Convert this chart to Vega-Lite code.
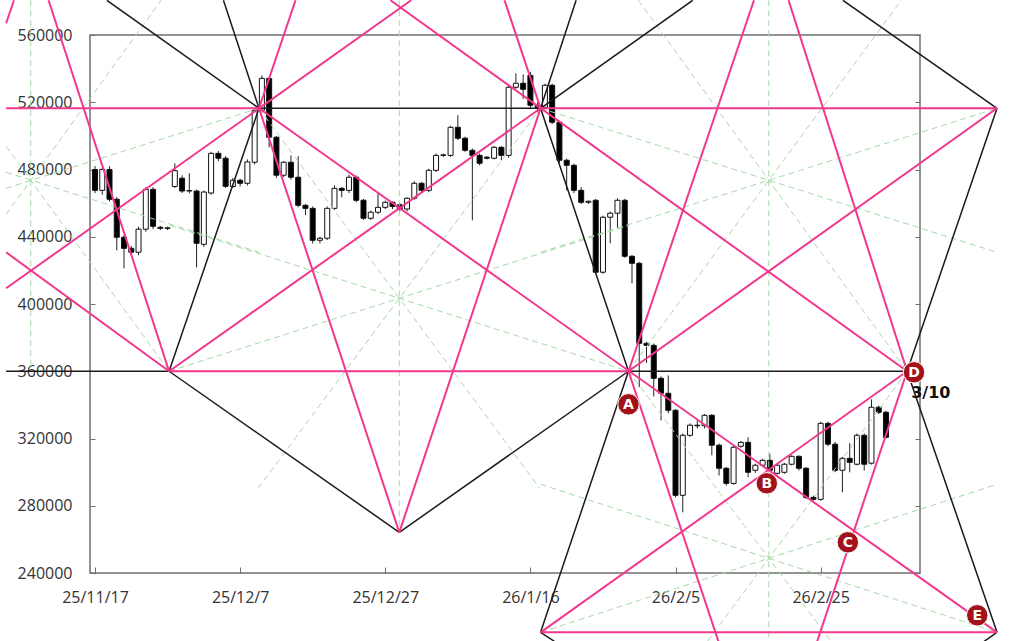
{
"$schema":"https://vega.github.io/schema/vega-lite/v6.json",
"width":830,"height":538,
"autosize":{"type":"none"},
"padding":{"left":90,"top":35,"right":104,"bottom":68},
"background":"white",
"config":{"view":{"stroke":"#707070","strokeWidth":1.5},"font":"Open Sans"},
"datasets":{
"candles":[
{"t":"2025-11-17","o":480000,"h":482000,"l":466000,"c":467600},
{"t":"2025-11-18","o":467600,"h":481000,"l":465000,"c":480000},
{"t":"2025-11-19","o":480000,"h":482000,"l":461000,"c":462300},
{"t":"2025-11-20","o":462300,"h":463500,"l":431900,"c":439700},
{"t":"2025-11-21","o":439700,"h":441000,"l":421200,"c":433100},
{"t":"2025-11-22","o":433100,"h":434500,"l":429000,"c":430800},
{"t":"2025-11-23","o":430800,"h":446000,"l":429000,"c":444500},
{"t":"2025-11-24","o":444500,"h":469500,"l":443000,"c":468200},
{"t":"2025-11-25","o":468200,"h":469500,"l":444500,"c":446200},
{"t":"2025-11-26","o":445600,"h":446500,"l":444000,"c":445000},
{"t":"2025-11-27","o":445000,"h":446000,"l":444000,"c":445300},
{"t":"2025-11-28","o":469900,"h":483700,"l":469000,"c":479300},
{"t":"2025-11-29","o":474800,"h":476500,"l":466000,"c":467200},
{"t":"2025-11-30","o":467200,"h":477800,"l":465800,"c":467500},
{"t":"2025-12-01","o":467200,"h":468000,"l":421800,"c":436100},
{"t":"2025-12-02","o":435500,"h":467500,"l":434000,"c":466600},
{"t":"2025-12-03","o":466000,"h":490500,"l":465000,"c":489600},
{"t":"2025-12-04","o":489600,"h":491000,"l":485000,"c":486700},
{"t":"2025-12-05","o":486700,"h":488000,"l":469000,"c":470000},
{"t":"2025-12-06","o":469900,"h":475000,"l":469000,"c":473600},
{"t":"2025-12-07","o":473600,"h":474500,"l":470000,"c":471800},
{"t":"2025-12-08","o":471800,"h":486000,"l":470500,"c":484500},
{"t":"2025-12-09","o":484300,"h":516000,"l":483000,"c":515200},
{"t":"2025-12-10","o":515200,"h":536000,"l":514000,"c":534200},
{"t":"2025-12-11","o":534200,"h":535000,"l":493200,"c":499200},
{"t":"2025-12-12","o":499200,"h":500000,"l":475000,"c":476600},
{"t":"2025-12-13","o":476600,"h":485000,"l":475500,"c":484300},
{"t":"2025-12-14","o":484300,"h":488400,"l":474000,"c":475400},
{"t":"2025-12-15","o":475400,"h":488000,"l":457500,"c":458700},
{"t":"2025-12-16","o":458700,"h":459500,"l":452800,"c":456900},
{"t":"2025-12-17","o":456900,"h":458000,"l":436000,"c":437900},
{"t":"2025-12-18","o":437900,"h":440000,"l":436000,"c":439100},
{"t":"2025-12-19","o":439100,"h":458000,"l":438000,"c":456900},
{"t":"2025-12-20","o":456900,"h":470600,"l":456000,"c":468800},
{"t":"2025-12-21","o":468800,"h":469500,"l":463500,"c":467600},
{"t":"2025-12-22","o":467600,"h":477000,"l":466000,"c":475400},
{"t":"2025-12-23","o":475400,"h":476500,"l":460500,"c":461700},
{"t":"2025-12-24","o":461700,"h":462500,"l":450000,"c":451000},
{"t":"2025-12-25","o":451000,"h":455500,"l":450000,"c":454600},
{"t":"2025-12-26","o":454600,"h":465800,"l":453500,"c":457500},
{"t":"2025-12-27","o":457500,"h":461500,"l":456500,"c":460500},
{"t":"2025-12-28","o":460500,"h":461000,"l":456500,"c":458000},
{"t":"2025-12-29","o":459000,"h":460000,"l":455000,"c":456500},
{"t":"2025-12-30","o":456500,"h":463500,"l":455000,"c":462900},
{"t":"2025-12-31","o":462900,"h":473000,"l":462000,"c":471800},
{"t":"2026-01-01","o":471800,"h":472500,"l":466500,"c":467600},
{"t":"2026-01-02","o":467600,"h":480500,"l":466500,"c":479500},
{"t":"2026-01-03","o":479500,"h":489500,"l":478500,"c":488400},
{"t":"2026-01-04","o":488400,"h":489500,"l":487500,"c":488700},
{"t":"2026-01-05","o":488400,"h":506000,"l":487500,"c":505100},
{"t":"2026-01-06","o":505100,"h":512200,"l":497500,"c":498600},
{"t":"2026-01-07","o":498600,"h":499500,"l":490500,"c":491400},
{"t":"2026-01-08","o":491400,"h":492500,"l":449800,"c":488400},
{"t":"2026-01-09","o":488400,"h":489500,"l":482500,"c":483700},
{"t":"2026-01-10","o":487300,"h":488000,"l":486000,"c":486700},
{"t":"2026-01-11","o":486700,"h":494000,"l":486000,"c":493200},
{"t":"2026-01-12","o":493200,"h":494000,"l":485500,"c":488400},
{"t":"2026-01-13","o":488400,"h":530000,"l":487000,"c":528900},
{"t":"2026-01-14","o":528900,"h":537200,"l":528000,"c":531300},
{"t":"2026-01-15","o":531300,"h":536600,"l":522000,"c":527700},
{"t":"2026-01-16","o":536000,"h":538000,"l":516000,"c":518200},
{"t":"2026-01-17","o":518200,"h":520000,"l":514000,"c":517000},
{"t":"2026-01-18","o":517000,"h":531000,"l":516000,"c":530100},
{"t":"2026-01-19","o":530100,"h":531000,"l":507000,"c":508100},
{"t":"2026-01-20","o":508100,"h":509000,"l":484000,"c":485500},
{"t":"2026-01-21","o":485500,"h":486500,"l":467600,"c":482500},
{"t":"2026-01-22","o":482500,"h":483500,"l":466000,"c":467600},
{"t":"2026-01-23","o":467600,"h":469500,"l":459500,"c":460500},
{"t":"2026-01-24","o":460500,"h":461500,"l":459500,"c":461100},
{"t":"2026-01-25","o":461700,"h":462500,"l":418000,"c":418900},
{"t":"2026-01-26","o":418900,"h":452500,"l":418000,"c":451600},
{"t":"2026-01-27","o":451600,"h":455000,"l":436100,"c":454000},
{"t":"2026-01-28","o":454000,"h":462900,"l":445000,"c":461700},
{"t":"2026-01-29","o":461700,"h":462500,"l":427500,"c":428400},
{"t":"2026-01-30","o":428400,"h":429000,"l":412300,"c":424200},
{"t":"2026-01-31","o":424200,"h":425000,"l":350500,"c":376600},
{"t":"2026-02-01","o":376600,"h":377500,"l":365000,"c":375400},
{"t":"2026-02-02","o":375400,"h":376500,"l":345000,"c":355800},
{"t":"2026-02-03","o":355800,"h":357000,"l":330800,"c":346900},
{"t":"2026-02-04","o":346900,"h":357500,"l":335000,"c":336800},
{"t":"2026-02-05","o":336800,"h":337500,"l":285000,"c":286200},
{"t":"2026-02-06","o":286200,"h":323000,"l":276100,"c":321900},
{"t":"2026-02-07","o":321900,"h":329000,"l":321000,"c":327900},
{"t":"2026-02-08","o":327900,"h":330800,"l":326000,"c":327600},
{"t":"2026-02-09","o":327600,"h":334500,"l":326000,"c":333800},
{"t":"2026-02-10","o":333800,"h":334500,"l":310000,"c":316000},
{"t":"2026-02-11","o":316000,"h":317000,"l":298000,"c":302300},
{"t":"2026-02-12","o":302300,"h":303000,"l":292000,"c":293300},
{"t":"2026-02-13","o":293300,"h":315500,"l":292500,"c":314800},
{"t":"2026-02-14","o":315400,"h":318500,"l":314500,"c":317700},
{"t":"2026-02-15","o":317700,"h":320700,"l":297000,"c":299900},
{"t":"2026-02-16","o":301100,"h":305000,"l":299500,"c":304100},
{"t":"2026-02-17","o":304100,"h":308000,"l":303000,"c":307000},
{"t":"2026-02-18","o":307000,"h":311000,"l":300000,"c":301100},
{"t":"2026-02-19","o":299300,"h":305000,"l":298500,"c":304100},
{"t":"2026-02-20","o":299900,"h":305500,"l":299000,"c":304700},
{"t":"2026-02-21","o":304700,"h":310000,"l":304000,"c":309400},
{"t":"2026-02-22","o":309400,"h":310000,"l":301000,"c":302300},
{"t":"2026-02-23","o":302300,"h":303000,"l":284000,"c":285000},
{"t":"2026-02-24","o":285000,"h":286000,"l":283000,"c":283800},
{"t":"2026-02-25","o":283800,"h":330000,"l":283000,"c":329000},
{"t":"2026-02-26","o":329000,"h":330000,"l":315500,"c":316600},
{"t":"2026-02-27","o":316600,"h":318000,"l":300000,"c":301100},
{"t":"2026-02-28","o":301100,"h":309000,"l":288000,"c":308200},
{"t":"2026-03-01","o":308200,"h":317200,"l":299900,"c":305800},
{"t":"2026-03-02","o":304700,"h":323000,"l":304000,"c":321900},
{"t":"2026-03-03","o":321900,"h":323000,"l":301000,"c":304700},
{"t":"2026-03-04","o":305300,"h":343300,"l":304500,"c":338600},
{"t":"2026-03-05","o":338600,"h":339500,"l":334500,"c":335600},
{"t":"2026-03-06","o":335600,"h":336500,"l":320000,"c":320700}
],
"segs":[
{"id":"k1","k":"black","t":"2025-11-04T18:00Z","v":360000},{"id":"k1","k":"black","t":"2025-11-27T05:04Z","v":360000},
{"id":"k2","k":"black","t":"2026-01-29T12:27Z","v":360000},{"id":"k2","k":"black","t":"2026-03-08T21:55Z","v":360000},
{"id":"k3","k":"black","t":"2025-12-09T14:24Z","v":516400},{"id":"k3","k":"black","t":"2026-01-17T09:39Z","v":516400},
{"id":"k4","k":"black","t":"2025-11-18T15:13Z","v":580640},{"id":"k4","k":"black","t":"2025-12-09T14:24Z","v":516400},
{"id":"k5","k":"black","t":"2025-12-04T16:47Z","v":580640},{"id":"k5","k":"black","t":"2025-12-09T14:24Z","v":516400},
{"id":"k6","k":"black","t":"2025-11-27T05:04Z","v":360000},{"id":"k6","k":"black","t":"2025-12-09T14:24Z","v":516400},
{"id":"k7","k":"black","t":"2025-11-27T05:04Z","v":360000},{"id":"k7","k":"black","t":"2025-12-28T22:24Z","v":264200},
{"id":"k8","k":"black","t":"2025-12-28T22:24Z","v":264200},{"id":"k8","k":"black","t":"2026-01-29T12:27Z","v":360000},
{"id":"k9","k":"black","t":"2026-01-17T09:39Z","v":516400},{"id":"k9","k":"black","t":"2026-01-29T12:27Z","v":360000},
{"id":"k10","k":"black","t":"2026-01-17T09:39Z","v":516400},{"id":"k10","k":"black","t":"2026-01-22T07:16Z","v":580640},
{"id":"k11","k":"black","t":"2026-01-17T09:39Z","v":516400},{"id":"k11","k":"black","t":"2026-02-07T08:51Z","v":580640},
{"id":"k12","k":"black","t":"2026-01-17T09:39Z","v":204700},{"id":"k12","k":"black","t":"2026-01-29T12:27Z","v":360000},
{"id":"k13","k":"black","t":"2026-02-28T01:32Z","v":580640},{"id":"k13","k":"black","t":"2026-03-21T07:15Z","v":516400},
{"id":"k14","k":"black","t":"2026-03-08T21:55Z","v":360000},{"id":"k14","k":"black","t":"2026-03-21T07:15Z","v":516400},
{"id":"k15","k":"black","t":"2026-03-08T21:55Z","v":360000},{"id":"k15","k":"black","t":"2026-03-21T07:15Z","v":204700},
{"id":"k16","k":"black","t":"2026-01-17T09:39Z","v":204700},{"id":"k16","k":"black","t":"2026-01-19T07:23Z","v":199370},
{"id":"k17","k":"black","t":"2026-03-21T07:15Z","v":204700},{"id":"k17","k":"black","t":"2026-03-19T12:46Z","v":199370},
{"id":"q1","k":"pink","t":"2025-11-04T18:00Z","v":516400},{"id":"q1","k":"pink","t":"2025-12-09T14:24Z","v":516400},
{"id":"q2","k":"pink","t":"2026-01-17T09:39Z","v":516400},{"id":"q2","k":"pink","t":"2026-03-21T07:15Z","v":516400},
{"id":"q3","k":"pink","t":"2025-11-27T05:04Z","v":360000},{"id":"q3","k":"pink","t":"2026-01-29T12:27Z","v":360000},
{"id":"q4","k":"pink","t":"2026-01-17T09:39Z","v":204700},{"id":"q4","k":"pink","t":"2026-03-21T07:15Z","v":204700},
{"id":"q5","k":"pink","t":"2025-11-04T18:00Z","v":430750},{"id":"q5","k":"pink","t":"2025-11-27T05:04Z","v":360000},
{"id":"q6","k":"pink","t":"2025-11-04T18:00Z","v":409340},{"id":"q6","k":"pink","t":"2025-12-30T13:36Z","v":580640},
{"id":"q7","k":"pink","t":"2025-11-10T14:25Z","v":580640},{"id":"q7","k":"pink","t":"2025-11-27T05:04Z","v":360000},
{"id":"q8","k":"pink","t":"2025-11-04T18:00Z","v":566960},{"id":"q8","k":"pink","t":"2025-11-05T20:00Z","v":580640},
{"id":"q9","k":"pink","t":"2025-12-09T14:24Z","v":516400},{"id":"q9","k":"pink","t":"2025-12-14T15:19Z","v":580640},
{"id":"q10","k":"pink","t":"2025-12-09T14:24Z","v":516400},{"id":"q10","k":"pink","t":"2025-12-28T22:24Z","v":264200},
{"id":"q11","k":"pink","t":"2025-12-09T14:24Z","v":516400},{"id":"q11","k":"pink","t":"2026-03-21T07:15Z","v":204700},
{"id":"q12","k":"pink","t":"2025-11-27T05:04Z","v":360000},{"id":"q12","k":"pink","t":"2026-01-17T09:39Z","v":516400},
{"id":"q13","k":"pink","t":"2025-12-27T17:00Z","v":580640},{"id":"q13","k":"pink","t":"2026-03-08T21:55Z","v":360000},
{"id":"q14","k":"pink","t":"2026-01-12T10:24Z","v":580640},{"id":"q14","k":"pink","t":"2026-01-17T09:39Z","v":516400},
{"id":"q15","k":"pink","t":"2025-12-28T22:24Z","v":264200},{"id":"q15","k":"pink","t":"2026-01-17T09:39Z","v":516400},
{"id":"q16","k":"pink","t":"2026-01-29T12:27Z","v":360000},{"id":"q16","k":"pink","t":"2026-03-21T07:15Z","v":516400},
{"id":"q17","k":"pink","t":"2026-01-29T12:27Z","v":360000},{"id":"q17","k":"pink","t":"2026-02-10T21:49Z","v":199370},
{"id":"q18","k":"pink","t":"2026-01-29T12:27Z","v":360000},{"id":"q18","k":"pink","t":"2026-02-15T19:26Z","v":580640},
{"id":"q19","k":"pink","t":"2026-02-20T13:48Z","v":580640},{"id":"q19","k":"pink","t":"2026-03-08T21:55Z","v":360000},
{"id":"q20","k":"pink","t":"2026-02-24T12:33Z","v":199370},{"id":"q20","k":"pink","t":"2026-03-08T21:55Z","v":360000},
{"id":"q21","k":"pink","t":"2026-01-17T09:39Z","v":204700},{"id":"q21","k":"pink","t":"2026-03-08T21:55Z","v":360000},
{"id":"g1","k":"green","t":"2025-11-04T18:00Z","v":493800},{"id":"g1","k":"green","t":"2025-11-27T05:04Z","v":360000},
{"id":"g2","k":"green","t":"2025-11-04T18:00Z","v":453350},{"id":"g2","k":"green","t":"2025-11-26T02:56Z","v":580640},
{"id":"g3","k":"green","t":"2025-11-04T18:00Z","v":468820},{"id":"g3","k":"green","t":"2025-12-09T14:24Z","v":516400},
{"id":"g4","k":"green","t":"2025-11-04T18:00Z","v":478340},{"id":"g4","k":"green","t":"2025-12-09T14:24Z","v":430750},
{"id":"g5","k":"green","t":"2025-11-08T03:36Z","v":580640},{"id":"g5","k":"green","t":"2025-11-08T03:36Z","v":360000},
{"id":"g6","k":"green","t":"2025-11-27T05:04Z","v":360000},{"id":"g6","k":"green","t":"2026-01-29T15:44Z","v":446810},
{"id":"g7","k":"green","t":"2026-01-29T12:27Z","v":360000},{"id":"g7","k":"green","t":"2025-11-27T08:20Z","v":446810},
{"id":"g8","k":"green","t":"2025-12-09T14:24Z","v":516400},{"id":"g8","k":"green","t":"2026-01-17T06:23Z","v":290380},
{"id":"g9","k":"green","t":"2026-01-17T09:39Z","v":516400},{"id":"g9","k":"green","t":"2025-12-09T11:08Z","v":290380},
{"id":"g10","k":"green","t":"2025-12-28T22:24Z","v":580640},{"id":"g10","k":"green","t":"2025-12-28T22:24Z","v":264200},
{"id":"g11","k":"green","t":"2026-01-29T12:27Z","v":360000},{"id":"g11","k":"green","t":"2026-03-08T02:18Z","v":580640},
{"id":"g12","k":"green","t":"2026-03-08T21:55Z","v":360000},{"id":"g12","k":"green","t":"2026-01-30T21:09Z","v":580640},
{"id":"g13","k":"green","t":"2026-01-17T09:39Z","v":516400},{"id":"g13","k":"green","t":"2026-03-21T07:15Z","v":430750},
{"id":"g14","k":"green","t":"2026-03-21T07:15Z","v":516400},{"id":"g14","k":"green","t":"2026-01-17T09:39Z","v":430750},
{"id":"g15","k":"green","t":"2026-02-17T20:27Z","v":580640},{"id":"g15","k":"green","t":"2026-02-17T20:27Z","v":360000},
{"id":"g16","k":"green","t":"2026-01-29T12:27Z","v":360000},{"id":"g16","k":"green","t":"2026-02-26T10:19Z","v":199370},
{"id":"g17","k":"green","t":"2026-03-08T21:55Z","v":360000},{"id":"g17","k":"green","t":"2026-02-09T09:52Z","v":199370},
{"id":"g18","k":"green","t":"2026-01-17T09:39Z","v":204700},{"id":"g18","k":"green","t":"2026-03-21T07:15Z","v":292760},
{"id":"g19","k":"green","t":"2026-03-21T07:15Z","v":204700},{"id":"g19","k":"green","t":"2026-01-17T09:39Z","v":292760},
{"id":"g20","k":"green","t":"2026-02-17T20:27Z","v":360000},{"id":"g20","k":"green","t":"2026-02-17T20:27Z","v":199370}
],
"labels":[
{"t":"2026-01-29T12:27Z","v":340340,"txt":"A"},
{"t":"2026-02-17T13:55Z","v":293350,"txt":"B"},
{"t":"2026-02-28T17:53Z","v":258260,"txt":"C"},
{"t":"2026-03-09T20:47Z","v":359370,"txt":"D"},
{"t":"2026-03-18T13:55Z","v":214840,"txt":"E"}
],
"notes":[
{"t":"2026-03-12T04:20Z","v":346880,"txt":"3/10"}
]
},
"encoding":{
"x":{"field":"t","type":"temporal",
"scale":{"type":"utc","domain":[{"year":2025,"month":11,"date":17,"utc":true},{"year":2026,"month":3,"date":10,"utc":true}]},
"axis":{"title":null,"format":"%y/%-m/%-d","values":[{"year":2025,"month":11,"date":17,"utc":true},{"year":2025,"month":12,"date":7,"utc":true},{"year":2025,"month":12,"date":27,"utc":true},{"year":2026,"month":1,"date":16,"utc":true},{"year":2026,"month":2,"date":5,"utc":true},{"year":2026,"month":2,"date":25,"utc":true}],
"domain":false,"grid":false,"tickSize":-6,"tickColor":"#707070","labelPadding":22,"labelFontSize":16,"labelColor":"#333333","labelFont":"Open Sans","labelFlush":false,"labelOverlap":false}}
},
"layer":[
{"data":{"name":"candles"},
"mark":{"type":"rule","color":"#222222","strokeWidth":1},
"encoding":{
"y":{"field":"l","type":"quantitative","scale":{"domain":[240000,560000],"nice":false,"zero":false},
"axis":{"title":null,"orient":"left","values":[240000,280000,320000,360000,400000,440000,480000,520000,560000],"format":"d","domain":false,"grid":false,"tickSize":-5,"tickColor":"#707070","labelPadding":23,"labelFontSize":16,"labelColor":"#333333","labelFont":"Open Sans","labelFlush":false}},
"y2":{"field":"h"}}},
{"data":{"name":"candles"},
"mark":{"type":"bar","width":5,"stroke":"#111111","strokeWidth":1},
"encoding":{
"y":{"field":"o","type":"quantitative","scale":{"domain":[240000,560000],"nice":false,"zero":false},
"axis":{"title":null,"orient":"right","values":[240000,280000,320000,360000,400000,440000,480000,520000,560000],"labels":false,"domain":false,"grid":false,"tickSize":-5,"tickColor":"#707070"}},
"y2":{"field":"c"},
"color":{"condition":{"test":"datum.c >= datum.o","value":"white"},"value":"black"}}},
{"data":{"name":"segs"},
"transform":[{"filter":"datum.k == 'green'"}],
"mark":{"type":"line","color":"#a6d9a8","strokeWidth":1,"strokeDash":[6,4]},
"encoding":{"y":{"field":"v","type":"quantitative","scale":{"domain":[240000,560000],"nice":false,"zero":false},"axis":null},"detail":{"field":"id"}}},
{"data":{"name":"segs"},
"transform":[{"filter":"datum.k == 'black'"}],
"mark":{"type":"line","color":"#1a1a1a","strokeWidth":1.5},
"encoding":{"y":{"field":"v","type":"quantitative","scale":{"domain":[240000,560000],"nice":false,"zero":false},"axis":null},"detail":{"field":"id"}}},
{"data":{"name":"segs"},
"transform":[{"filter":"datum.k == 'pink'"}],
"mark":{"type":"line","color":"#f2378c","strokeWidth":2},
"encoding":{"y":{"field":"v","type":"quantitative","scale":{"domain":[240000,560000],"nice":false,"zero":false},"axis":null},"detail":{"field":"id"}}},
{"data":{"name":"labels"},
"mark":{"type":"point","shape":"circle","filled":true,"size":460,"fill":"#a3121a","stroke":"#ffffff","strokeWidth":1,"opacity":1},
"encoding":{"y":{"field":"v","type":"quantitative","scale":{"domain":[240000,560000],"nice":false,"zero":false},"axis":null}}},
{"data":{"name":"labels"},
"mark":{"type":"text","color":"white","font":"DejaVu Sans","fontWeight":"bold","fontSize":14,"align":"center","baseline":"middle","dy":1},
"encoding":{"y":{"field":"v","type":"quantitative","scale":{"domain":[240000,560000],"nice":false,"zero":false},"axis":null},"text":{"field":"txt"}}},
{"data":{"name":"notes"},
"mark":{"type":"text","color":"#111111","font":"DejaVu Sans","fontWeight":"bold","fontSize":16,"align":"center","baseline":"middle"},
"encoding":{"y":{"field":"v","type":"quantitative","scale":{"domain":[240000,560000],"nice":false,"zero":false},"axis":null},"text":{"field":"txt"}}}
],
"resolve":{"axis":{"y":"independent"}}
}
